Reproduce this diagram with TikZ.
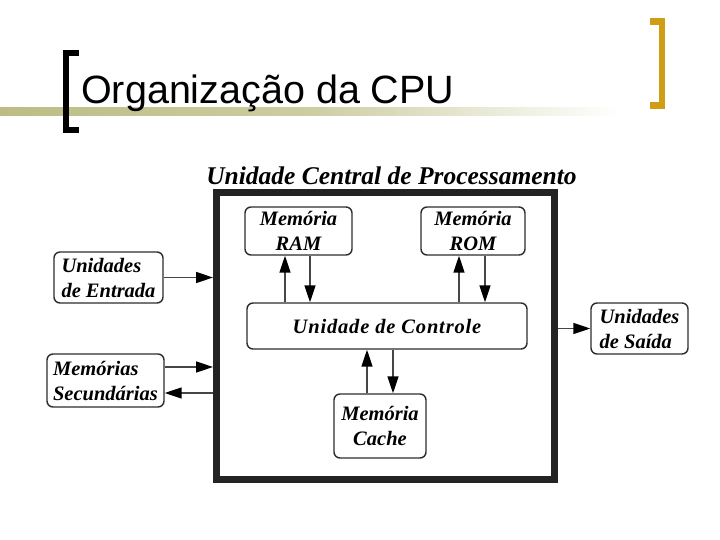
\documentclass[tikz,border=0pt]{standalone}
\usepackage{fontspec}
\setmainfont{Liberation Sans}
\newfontfamily\diagfont{Liberation Serif}
\newfontfamily\diagwide{Liberation Serif}[LetterSpace=4]
\usetikzlibrary{arrows.meta}
\definecolor{gold}{RGB}{208,158,22}
\definecolor{bandc}{RGB}{188,188,132}
\definecolor{framec}{RGB}{35,35,35}
\definecolor{boxc}{RGB}{45,45,45}
\definecolor{linec}{RGB}{70,70,70}
\tikzset{
  box/.style={draw=boxc, line width=1.4pt, rounded corners=6pt, fill=white,
    inner sep=0pt, align=center, text=black,
    font=\diagfont\bfseries\itshape\fontsize{20.5}{25}\selectfont},
  conn/.style={draw=linec, line width=1.6pt, -{Triangle[length=17pt,width=11pt,color=black]}},
  brk/.style={line width=6.5pt, line cap=butt, line join=miter}
}
\begin{document}
\begin{tikzpicture}[x=1pt,y=-1pt]
\useasboundingbox (0,0) rectangle (720,540);
% title band
\shade[left color=bandc, right color=white, middle color=bandc!75!white] (0,108) rectangle (620,116);
% brackets
\draw[brk, black] (79,53) -- (66,53) -- (66,130) -- (79,130);
\draw[brk, gold] (650,21.5) -- (662,21.5) -- (662,105.5) -- (650,105.5);
\node[anchor=base west, inner sep=0pt, font=\fontsize{39.5}{45}\selectfont] (title) at (81,104) {Organização da CPU};
% diagram
\node[anchor=base, inner sep=0pt, font=\diagfont\bfseries\itshape\fontsize{25.5}{28}\selectfont] (head) at (391.5,185) {Unidade Central de Processamento};
\node[draw=framec, line width=7pt, minimum width=338pt, minimum height=287pt, inner sep=0pt] (cpu) at (385.5,336) {};
\node[box, minimum width=107pt, minimum height=48pt] (ram) at (298.5,231) {Memória\\RAM};
\node[box, minimum width=104pt, minimum height=48pt] (rom) at (473,231) {Memória\\ROM};
\node[box, minimum width=280pt, minimum height=46pt, font=\diagwide\bfseries\itshape\fontsize{20.5}{25}\selectfont] (ctrl) at (387,326) {Unidade de Controle};
\node[box, minimum width=92pt, minimum height=64pt] (cache) at (380,426) {Memória\\Cache};
\node[box, minimum width=109pt, minimum height=51pt, align=left] (ent) at (108.5,277.5) {Unidades\\de Entrada};
\node[box, minimum width=117pt, minimum height=53pt, align=left] (sec) at (105.5,380.5) {Memórias\\Secundárias};
\node[box, minimum width=97pt, minimum height=51pt, align=left] (sai) at (639.5,328.5) {Unidades\\de Saída};
% connector positions
\coordinate (ra) at (285,0);
\coordinate (rb) at (310,0);
\coordinate (oa) at (459,0);
\coordinate (ob) at (485,0);
\coordinate (ca) at (367,0);
\coordinate (cb) at (393,0);
\coordinate (sa) at (0,367);
\coordinate (sb) at (0,393);
% connectors
\draw[conn] (ra |- ctrl.north) -- (ra |- ram.south);
\draw[conn] (rb |- ram.south) -- (rb |- ctrl.north);
\draw[conn] (oa |- ctrl.north) -- (oa |- rom.south);
\draw[conn] (ob |- rom.south) -- (ob |- ctrl.north);
\draw[conn] (ca |- cache.north) -- (ca |- ctrl.south);
\draw[conn] (cb |- ctrl.south) -- (cb |- cache.north);
\draw[conn] (ent.east) -- (ent.east -| cpu.west);
\draw[conn] (sec.east |- sa) -- (cpu.west |- sa);
\draw[conn] (cpu.west |- sb) -- (sec.east |- sb);
\draw[conn] (cpu.east |- sai.west) -- (sai.west);
\end{tikzpicture}
\end{document}
